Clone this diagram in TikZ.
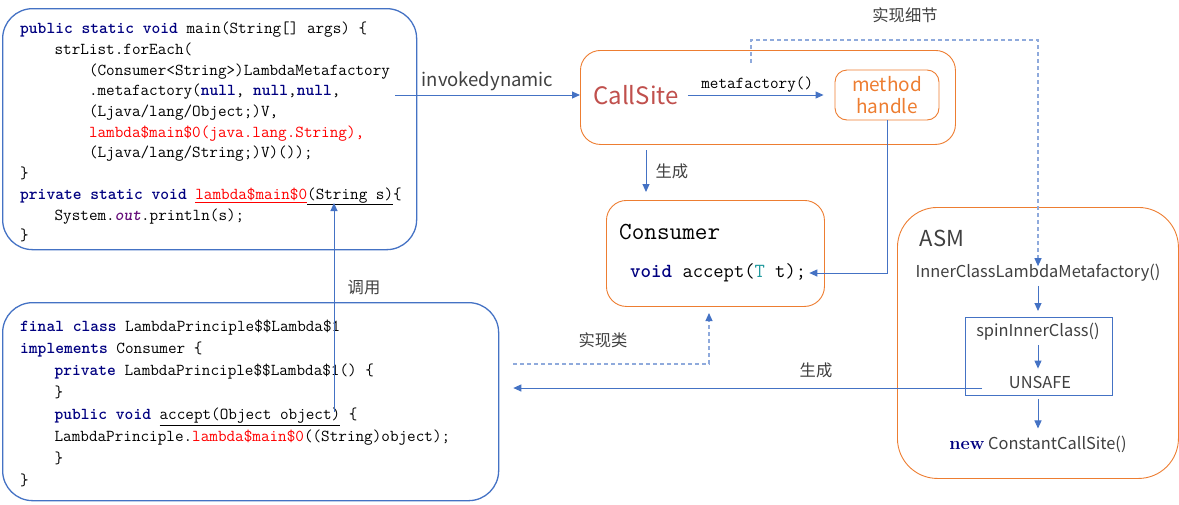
\documentclass[tikz,border=0pt]{standalone}
\usepackage{fontspec}
\usetikzlibrary{arrows.meta}
\newfontfamily\cjk{Noto Sans CJK SC}
\definecolor{kwblue}{HTML}{000080}
\definecolor{codered}{HTML}{FF0000}
\definecolor{outpurple}{HTML}{660E7A}
\definecolor{typeteal}{HTML}{20999D}
\definecolor{boxblue}{HTML}{4472C4}
\definecolor{dashblue}{HTML}{8FAADC}
\definecolor{boxorange}{HTML}{ED7D31}
\definecolor{sitered}{HTML}{C0504D}
\definecolor{labelgray}{HTML}{404040}
\newcommand{\kw}[1]{\textcolor{kwblue}{\textbf{#1}}}
\newcommand{\rd}[1]{\textcolor{codered}{#1}}
\newcommand{\ind}{\hphantom{0000}}
\tikzset{
  codebox/.style={draw=boxblue, line width=1.3pt, rounded corners=30pt, anchor=north west},
  sitebox/.style={draw=boxorange, line width=0.9pt, rounded corners=20pt, anchor=north west},
  code/.style={inner sep=0pt, align=left, font=\ttfamily\fontsize{16.7}{20.7}\selectfont},
  sans/.style={inner sep=1pt, text=labelgray, font=\cjk\fontsize{16.4}{19}\selectfont},
  note/.style={inner sep=1pt, text=labelgray, font=\cjk\fontsize{16.3}{19}\selectfont},
  arrow/.style={draw=boxblue, line width=1pt, -{Triangle[length=8pt,width=7pt]}},
  dasharrow/.style={draw=dashblue, line width=1.1pt, dash pattern=on 4pt off 3pt,
    -{Triangle[length=8pt,width=7pt,color=boxblue]}}
}
\begin{document}
\begin{tikzpicture}[x=1pt, y=-1pt]
\useasboundingbox (0,0) rectangle (1179,504);
% left: source code boxes
\node[codebox, minimum width=414pt, minimum height=241pt] (mainBox) at (2,8) {};
\node[code, anchor=north west] (mainCode) at (20,22) {%
\kw{public static void} main(String[] args) \{\\
\ind strList.forEach(\\
\ind\ind(Consumer<String>)LambdaMetafactory\\
\ind\ind.metafactory(\kw{null}, \kw{null},\kw{null},\\
\ind\ind(Ljava/lang/Object;)V,\\
\ind\ind\rd{lambda\$main\$0(java.lang.String),}\\
\ind\ind(Ljava/lang/String;)V)());\\
\}\\
\kw{private static void} \textcolor{codered}{\underline{lambda\$main\$0}}\underline{(String s)}\{\\
\ind System.\textcolor{outpurple}{\textbf{\textit{out}}}.println(s);\\
\}};
\node[codebox, minimum width=496pt, minimum height=198pt] (lambdaBox) at (2,302) {};
\node[code, font=\ttfamily\fontsize{16.7}{22.1}\selectfont, anchor=north west] (lambdaCode) at (20,319.5) {%
\kw{final class} LambdaPrinciple\$\$Lambda\$1\\
\kw{implements} Consumer \{\\
\ind\kw{private} LambdaPrinciple\$\$Lambda\$1() \{\\
\ind\}\\
\ind\kw{public void} \underline{accept(Object object)} \{\\
\ind LambdaPrinciple.\rd{lambda\$main\$0}((String)object);\\
\ind\}\\
\}};
% call site
\node[sitebox, minimum width=375pt, minimum height=94pt] (siteBox) at (580,50) {};
\node[inner sep=1pt, text=sitered, font=\cjk\fontsize{24}{28}\selectfont] (callSite) at (636,95) {CallSite};
\node[sitebox, rounded corners=12pt, minimum width=104pt, minimum height=50pt, anchor=center,
  align=center, text=boxorange, font=\cjk\fontsize{19}{22}\selectfont] (handle) at (887,95) {method\\handle};
\coordinate (invStart) at (395,95);
\draw[arrow] (invStart) -- (siteBox.west |- invStart)
  node[midway, above=3pt, inner sep=1pt, text=labelgray, font=\cjk\fontsize{18.5}{21}\selectfont] {invokedynamic};
\draw[arrow, shorten <=8pt, shorten >=11pt] (callSite.east) -- (handle.west)
  node[midway, above=2pt, code] {metafactory()};
% consumer interface
\node[sitebox, minimum width=218pt, minimum height=106pt] (consumerBox) at (606,200) {};
\node[code, font=\ttfamily\fontsize{24.5}{28}\selectfont, anchor=west] (consumerTitle) at (619,232) {Consumer};
\node[code, font=\ttfamily\fontsize{20}{24}\selectfont, anchor=west] (acceptSig) at (630,273) {\kw{void} accept(\textcolor{typeteal}{T} t);};
\coordinate (genTop) at (646,150);
\draw[arrow] (genTop) -- (646,192) node[midway, right=8pt, note] {生成};
\draw[arrow] (handle.south) |- ([xshift=3pt]acceptSig.east);
% ASM
\node[sitebox, rounded corners=40pt, minimum width=281pt, minimum height=271pt] (asmBox) at (897,207) {};
\node[inner sep=1pt, text=labelgray, font=\cjk\fontsize{22}{26}\selectfont] (asmTitle) at (942,238) {ASM};
\node[sans] (innerFactory) at (1038,273) {InnerClassLambdaMetafactory()};
\node[draw=boxblue, line width=0.9pt, minimum width=147pt, minimum height=78pt, anchor=north west] (spinBox) at (965,317) {};
\node[sans] (spinClass) at (1038,332) {spinInnerClass()};
\node[sans] (unsafe) at (1040,382) {UNSAFE};
\node[sans] (newSite) at (1038,444) {\textcolor{kwblue}{\rmfamily\bfseries\fontsize{18}{20}\selectfont new} ConstantCallSite()};
\draw[arrow, shorten <=3pt, shorten >=6pt] (innerFactory.south) -- (spinBox.north -| innerFactory.south);
\draw[arrow, shorten <=3pt, shorten >=6pt] (spinClass.south) -- (spinClass.south |- unsafe.north);
\draw[arrow, shorten <=3pt, shorten >=6pt] (spinBox.south -| innerFactory.south) -- (innerFactory.south |- newSite.north);
% detail link
\coordinate (detailStart) at (751,63);
\coordinate (detailCorner) at (1038,40);
\draw[dasharrow] (detailStart) |- (detailCorner) -- ([yshift=-3pt]innerFactory.north);
\node[note] (detailNote) at (905,15) {实现细节};
% generated class
\coordinate (unsafeTail) at (982,388);
\draw[arrow, shorten >=14pt] (unsafeTail) -- (unsafeTail -| lambdaBox.east);
\node[note] (genNote) at (816,370) {生成};
\coordinate (implStart) at (513,364);
\coordinate (implEnd) at (709,313);
\draw[dasharrow] (implStart) -| (implEnd);
\node[note] (implNote) at (603,340) {实现类};
\coordinate (callStart) at (334,412);
\coordinate (callEnd) at (334,203);
\draw[arrow] (callStart) -- (callEnd);
\node[note] (callNote) at (364,288) {调用};
\end{tikzpicture}
\end{document}
